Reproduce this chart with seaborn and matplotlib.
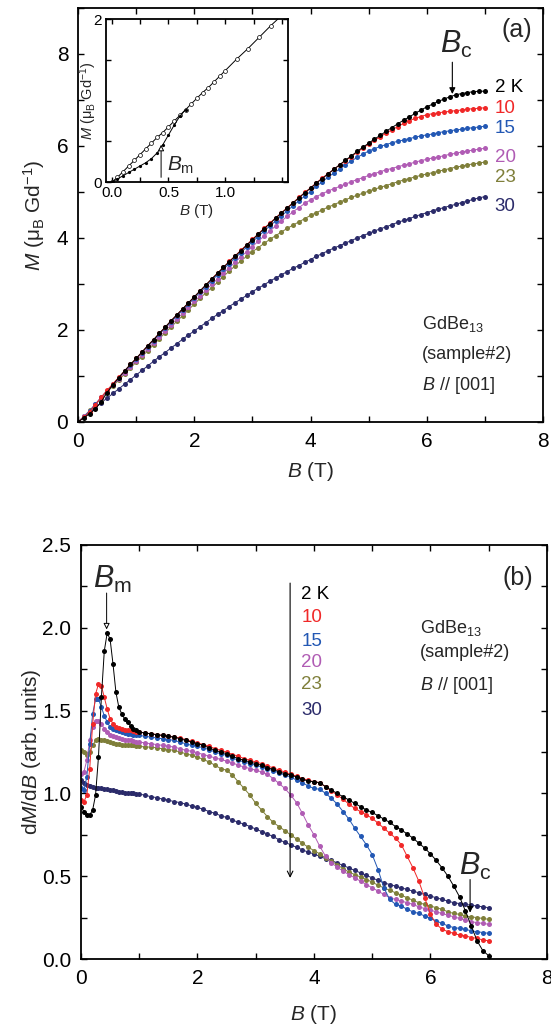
"""
plot.py
-------
GdBe13 (sample#2), B // [001]: magnetization M(B) at several temperatures
(top, with low-field inset) and the field derivative dM/dB (bottom).
"""

import numpy as np
import matplotlib
matplotlib.use("Agg")
import matplotlib.pyplot as plt
from matplotlib.ticker import MultipleLocator, FormatStrFormatter
import seaborn as sns

# ---------------------------------------------------------------- data
TEMPS = ["2 K", "10", "15", "20", "23", "30"]
COLORS = ["#000000", "#f02828", "#2358b4", "#b05cb4", "#7f7f3a", "#2b2b6a"]

# top panel: field grid 0 ... 7 T in 0.1 T steps
B_TOP = np.round(np.linspace(0.0, 7.0, 71), 2)

M_2K = [0.00, 0.09, 0.18, 0.29, 0.44, 0.64, 0.81, 0.96, 1.11, 1.25, 1.38,
        1.52, 1.66, 1.79, 1.93, 2.06, 2.20, 2.33, 2.46, 2.59, 2.72,
        2.85, 2.98, 3.11, 3.23, 3.36, 3.48, 3.60, 3.72, 3.84, 3.96,
        4.08, 4.20, 4.31, 4.43, 4.54, 4.65, 4.76, 4.87, 4.98, 5.08,
        5.19, 5.29, 5.39, 5.49, 5.59, 5.69, 5.78, 5.88, 5.97, 6.06,
        6.15, 6.23, 6.32, 6.40, 6.48, 6.56, 6.63, 6.71, 6.78, 6.85,
        6.91, 6.97, 7.02, 7.07, 7.11, 7.14, 7.16, 7.18, 7.19, 7.19]
M_10K = [0.00, 0.10, 0.22, 0.38, 0.54, 0.69, 0.83, 0.97, 1.11, 1.25, 1.38,
         1.52, 1.66, 1.79, 1.93, 2.06, 2.20, 2.33, 2.46, 2.59, 2.72,
         2.85, 2.98, 3.11, 3.24, 3.36, 3.49, 3.61, 3.73, 3.85, 3.97,
         4.09, 4.21, 4.32, 4.44, 4.55, 4.66, 4.77, 4.88, 4.99, 5.09,
         5.20, 5.30, 5.40, 5.49, 5.59, 5.68, 5.77, 5.86, 5.95, 6.04,
         6.12, 6.20, 6.28, 6.35, 6.42, 6.49, 6.55, 6.60, 6.64, 6.68,
         6.70, 6.72, 6.74, 6.75, 6.77, 6.78, 6.80, 6.81, 6.82, 6.83]
M_15K = [0.00, 0.11, 0.24, 0.39, 0.54, 0.68, 0.82, 0.96, 1.10, 1.23, 1.37,
         1.51, 1.64, 1.77, 1.91, 2.04, 2.17, 2.30, 2.43, 2.56, 2.69,
         2.82, 2.94, 3.07, 3.20, 3.32, 3.44, 3.56, 3.68, 3.80, 3.92,
         4.03, 4.15, 4.26, 4.37, 4.48, 4.59, 4.70, 4.81, 4.91, 5.01,
         5.12, 5.22, 5.32, 5.41, 5.50, 5.59, 5.67, 5.75, 5.82, 5.89,
         5.94, 5.99, 6.03, 6.07, 6.10, 6.13, 6.16, 6.19, 6.22, 6.24,
         6.26, 6.29, 6.31, 6.33, 6.35, 6.36, 6.38, 6.40, 6.41, 6.43]
M_20K = [0.00, 0.12, 0.24, 0.39, 0.53, 0.67, 0.80, 0.94, 1.07, 1.20, 1.33,
         1.46, 1.59, 1.72, 1.85, 1.98, 2.11, 2.24, 2.36, 2.49, 2.62,
         2.74, 2.87, 2.99, 3.11, 3.23, 3.35, 3.47, 3.59, 3.70, 3.81,
         3.93, 4.04, 4.15, 4.26, 4.37, 4.47, 4.57, 4.66, 4.75, 4.83,
         4.90, 4.96, 5.02, 5.07, 5.12, 5.17, 5.22, 5.27, 5.31, 5.36,
         5.40, 5.44, 5.48, 5.51, 5.55, 5.58, 5.61, 5.65, 5.68, 5.71,
         5.74, 5.76, 5.79, 5.82, 5.84, 5.87, 5.89, 5.91, 5.93, 5.95]
M_23K = [0.00, 0.12, 0.25, 0.38, 0.51, 0.65, 0.78, 0.91, 1.04, 1.17, 1.30,
         1.42, 1.55, 1.68, 1.81, 1.94, 2.06, 2.19, 2.31, 2.44, 2.56,
         2.69, 2.81, 2.92, 3.04, 3.16, 3.28, 3.39, 3.50, 3.60, 3.70,
         3.79, 3.88, 3.97, 4.05, 4.13, 4.21, 4.28, 4.35, 4.42, 4.49,
         4.55, 4.61, 4.67, 4.72, 4.78, 4.83, 4.88, 4.93, 4.97, 5.02,
         5.06, 5.10, 5.14, 5.18, 5.22, 5.26, 5.29, 5.33, 5.36, 5.39,
         5.42, 5.45, 5.48, 5.51, 5.54, 5.56, 5.59, 5.61, 5.63, 5.65]
M_30K = [0.00, 0.11, 0.21, 0.31, 0.42, 0.52, 0.62, 0.72, 0.82, 0.92, 1.02,
         1.12, 1.22, 1.32, 1.42, 1.51, 1.61, 1.70, 1.80, 1.89, 1.98,
         2.07, 2.16, 2.25, 2.34, 2.42, 2.51, 2.59, 2.67, 2.75, 2.83,
         2.91, 2.98, 3.06, 3.13, 3.20, 3.27, 3.34, 3.40, 3.47, 3.53,
         3.60, 3.66, 3.72, 3.78, 3.83, 3.89, 3.94, 4.00, 4.05, 4.10,
         4.15, 4.20, 4.24, 4.29, 4.34, 4.38, 4.42, 4.47, 4.51, 4.55,
         4.59, 4.63, 4.66, 4.70, 4.73, 4.77, 4.80, 4.84, 4.87, 4.90]

# inset: low-field M(B) at 2 K, two branches
B_IN_UP = [0.00, 0.05, 0.10, 0.15, 0.20, 0.25, 0.30, 0.35, 0.40, 0.45, 0.50,
           0.55, 0.60, 0.65, 0.70, 0.75, 0.80, 0.85, 0.90, 0.95, 1.00,
           1.10, 1.20, 1.30, 1.40, 1.50]
M_IN_UP = [0.00, 0.06, 0.13, 0.20, 0.27, 0.34, 0.41, 0.48, 0.55, 0.61, 0.68,
           0.75, 0.82, 0.89, 0.96, 1.03, 1.10, 1.16, 1.23, 1.30, 1.37,
           1.51, 1.64, 1.78, 1.92, 2.05]
B_IN_LO = [0.00, 0.05, 0.10, 0.15, 0.20, 0.25, 0.30, 0.35, 0.40, 0.45, 0.50,
           0.55, 0.60, 0.65]
M_IN_LO = [0.00, 0.04, 0.08, 0.12, 0.16, 0.20, 0.24, 0.29, 0.36, 0.46, 0.58,
           0.70, 0.81, 0.89]

# bottom panel: 0.05 T steps below 1 T, 0.1 T steps from 1 to 7 T
B_BOT = np.round(np.concatenate([np.linspace(0.0, 0.95, 20),
                                 np.linspace(1.0, 7.0, 61)]), 2)

D_2K = [0.92, 0.89, 0.87, 0.87, 0.90, 0.99, 1.22, 1.58, 1.86, 1.97,
        1.93, 1.78, 1.61, 1.52, 1.48, 1.45, 1.43, 1.41, 1.39, 1.38,
        1.37, 1.365, 1.36, 1.355, 1.35, 1.345, 1.34, 1.33, 1.32, 1.31,
        1.30, 1.29, 1.275, 1.26, 1.25, 1.24, 1.225, 1.21, 1.20, 1.19,
        1.18, 1.17, 1.155, 1.145, 1.13, 1.12, 1.11, 1.10, 1.085, 1.075,
        1.07, 1.065, 1.04, 1.02, 1.00, 0.98, 0.96, 0.94, 0.92, 0.90,
        0.885, 0.865, 0.845, 0.825, 0.80, 0.78, 0.755, 0.73, 0.70, 0.67,
        0.635, 0.595, 0.55, 0.50, 0.44, 0.375, 0.29, 0.20, 0.11, 0.05,
        0.02]
D_10K = [0.96, 0.95, 0.99, 1.15, 1.42, 1.60, 1.66, 1.65, 1.58, 1.51,
         1.45, 1.42, 1.40, 1.395, 1.39, 1.385, 1.38, 1.38, 1.375, 1.37,
         1.37, 1.365, 1.36, 1.355, 1.35, 1.345, 1.34, 1.335, 1.325, 1.315,
         1.305, 1.295, 1.285, 1.27, 1.26, 1.25, 1.235, 1.225, 1.21, 1.20,
         1.19, 1.18, 1.165, 1.155, 1.14, 1.13, 1.115, 1.105, 1.09, 1.08,
         1.07, 1.065, 1.04, 1.015, 0.99, 0.965, 0.935, 0.91, 0.89, 0.87,
         0.85, 0.82, 0.79, 0.76, 0.73, 0.69, 0.62, 0.55, 0.47, 0.37,
         0.27, 0.21, 0.18, 0.165, 0.155, 0.145, 0.14, 0.13, 0.125, 0.115,
         0.11]
D_15K = [1.03, 1.02, 1.10, 1.30, 1.48, 1.57, 1.57, 1.52, 1.47, 1.43,
         1.40, 1.39, 1.38, 1.375, 1.37, 1.365, 1.36, 1.36, 1.355, 1.35,
         1.35, 1.345, 1.34, 1.335, 1.33, 1.325, 1.32, 1.31, 1.30, 1.29,
         1.285, 1.275, 1.265, 1.25, 1.24, 1.23, 1.215, 1.20, 1.19, 1.18,
         1.17, 1.16, 1.15, 1.135, 1.125, 1.11, 1.10, 1.08, 1.065, 1.045,
         1.03, 1.025, 1.00, 0.97, 0.935, 0.89, 0.845, 0.79, 0.74, 0.69,
         0.63, 0.54, 0.43, 0.36, 0.33, 0.32, 0.30, 0.285, 0.275, 0.26,
         0.245, 0.23, 0.215, 0.20, 0.19, 0.185, 0.18, 0.17, 0.165, 0.16,
         0.155]
D_20K = [1.12, 1.13, 1.20, 1.32, 1.40, 1.44, 1.44, 1.42, 1.39, 1.37,
         1.355, 1.345, 1.34, 1.335, 1.33, 1.325, 1.32, 1.32, 1.315, 1.31,
         1.31, 1.305, 1.30, 1.295, 1.29, 1.285, 1.28, 1.27, 1.26, 1.255,
         1.245, 1.235, 1.225, 1.215, 1.205, 1.195, 1.185, 1.17, 1.16, 1.15,
         1.14, 1.13, 1.115, 1.09, 1.06, 1.03, 0.99, 0.945, 0.88, 0.81,
         0.75, 0.68, 0.62, 0.58, 0.555, 0.53, 0.51, 0.49, 0.47, 0.45,
         0.43, 0.41, 0.39, 0.37, 0.36, 0.35, 0.34, 0.33, 0.315, 0.305,
         0.295, 0.285, 0.275, 0.265, 0.255, 0.245, 0.235, 0.225, 0.22, 0.215,
         0.21]
D_23K = [1.26, 1.25, 1.23, 1.25, 1.29, 1.32, 1.33, 1.325, 1.32, 1.315,
         1.31, 1.305, 1.30, 1.30, 1.295, 1.295, 1.29, 1.29, 1.29, 1.285,
         1.285, 1.28, 1.28, 1.275, 1.27, 1.265, 1.26, 1.25, 1.24, 1.23,
         1.22, 1.205, 1.19, 1.17, 1.15, 1.14, 1.11, 1.07, 1.03, 0.99,
         0.94, 0.90, 0.86, 0.825, 0.80, 0.775, 0.75, 0.725, 0.70, 0.675,
         0.655, 0.635, 0.61, 0.59, 0.57, 0.545, 0.525, 0.51, 0.495, 0.48,
         0.465, 0.445, 0.43, 0.415, 0.40, 0.385, 0.37, 0.355, 0.34, 0.33,
         0.32, 0.31, 0.30, 0.285, 0.275, 0.27, 0.26, 0.255, 0.25, 0.245,
         0.24]
D_30K = [1.08, 1.06, 1.05, 1.045, 1.04, 1.035, 1.03, 1.03, 1.025, 1.025,
         1.02, 1.02, 1.015, 1.01, 1.01, 1.005, 1.005, 1.00, 1.00, 0.995,
         0.995, 0.99, 0.98, 0.975, 0.965, 0.96, 0.95, 0.945, 0.935, 0.925,
         0.915, 0.905, 0.89, 0.88, 0.865, 0.855, 0.84, 0.825, 0.815, 0.80,
         0.785, 0.77, 0.755, 0.74, 0.72, 0.705, 0.69, 0.675, 0.66, 0.645,
         0.635, 0.62, 0.605, 0.595, 0.58, 0.565, 0.55, 0.535, 0.52, 0.505,
         0.49, 0.475, 0.46, 0.45, 0.44, 0.43, 0.42, 0.41, 0.40, 0.39,
         0.38, 0.37, 0.36, 0.35, 0.34, 0.335, 0.33, 0.325, 0.32, 0.315,
         0.31]

M_SERIES = [M_2K, M_10K, M_15K, M_20K, M_23K, M_30K]
D_SERIES = [D_2K, D_10K, D_15K, D_20K, D_23K, D_30K]

# label anchor values (data units)
M_LABEL_Y = [7.27, 6.81, 6.37, 5.76, 5.32, 4.69]
D_LABEL_Y = [2.20, 2.06, 1.92, 1.79, 1.66, 1.50]

# ---------------------------------------------------------------- style
sns.set_theme(style="ticks")
FONTS = ["Liberation Sans", "DejaVu Sans"]
plt.rcParams["font.family"] = FONTS
plt.rcParams["mathtext.fontset"] = "custom"
plt.rcParams["mathtext.rm"] = "Liberation Sans"
plt.rcParams["mathtext.it"] = "Liberation Sans:italic"
plt.rcParams["axes.linewidth"] = 1.3
plt.rcParams["axes.edgecolor"] = "black"


def style_axes(ax, labelsize=15, length=4.5, pad=7):
    ax.tick_params(which="both", direction="in", top=True, right=True,
                   width=1.0, length=length, colors="black",
                   labelsize=labelsize, pad=pad)
    for sp in ax.spines.values():
        sp.set_color("black")


def draw_series(ax, x, y, color, ms=3.6, lw=0.7):
    sns.lineplot(x=x, y=y, ax=ax, color=color, marker="o", markersize=ms,
                 markeredgewidth=0, linewidth=lw, legend=False)


fig = plt.figure(figsize=(5.51, 10.32), dpi=100)
ax1 = fig.add_axes([0.1416, 0.5911, 0.8439, 0.4012])
ax2 = fig.add_axes([0.147, 0.0707, 0.8457, 0.4012])
axin = fig.add_axes([0.1924, 0.8234, 0.3298, 0.158])

# ---------------------------------------------------------------- (a)
for m, c in zip(M_SERIES[::-1], COLORS[::-1]):
    draw_series(ax1, B_TOP, m, c)

ax1.set_xlim(0, 8)
ax1.set_ylim(0, 9)
ax1.xaxis.set_major_locator(MultipleLocator(2))
ax1.xaxis.set_minor_locator(MultipleLocator(1))
ax1.yaxis.set_major_locator(MultipleLocator(2))
ax1.yaxis.set_minor_locator(MultipleLocator(1))
style_axes(ax1)
ax1.set_xlabel(r"$B$ (T)", fontsize=15)
ax1.set_ylabel(r"$M$ (μ$_\mathrm{B}$ Gd$^{-1}$)", fontsize=15)
ax1.xaxis.set_label_coords(0.5, -0.093)
ax1.yaxis.set_label_coords(-0.066, 0.5)

for lab, yv, c in zip(TEMPS, M_LABEL_Y, COLORS):
    ax1.text(7.17, yv, lab, color=c, fontsize=13.5, ha="left", va="center")

ax1.text(7.82, 8.52, "(a)", fontsize=18, ha="right", va="center")
ax1.text(5.91, 2.12, r"GdBe$_{13}$", fontsize=13, ha="left", va="center")
ax1.text(5.91, 1.46, "(sample#2)", fontsize=13, ha="left", va="center")
ax1.text(5.91, 0.79, r"$B$ // [001]", fontsize=13, ha="left", va="center")

ax1.text(6.5, 8.2, r"$B_\mathrm{c}$", fontsize=22, ha="center", va="center")
ax1.annotate("", xy=(6.44, 7.13), xytext=(6.44, 7.82),
             arrowprops=dict(arrowstyle="-|>", color="black", lw=0.8,
                             mutation_scale=9, shrinkA=0, shrinkB=0))

# inset
sns.lineplot(x=B_IN_UP, y=M_IN_UP, ax=axin, color="black", marker="o",
             markersize=2.8, markerfacecolor="white", markeredgecolor="black",
             markeredgewidth=0.5, linewidth=0.7, legend=False)
sns.lineplot(x=B_IN_LO, y=M_IN_LO, ax=axin, color="black", marker="o",
             markersize=2.3, markeredgewidth=0, linewidth=0.7, legend=False)
axin.set_xlim(-0.05, 1.55)
axin.set_ylim(0, 2)
axin.set_xticks([0.0, 0.5, 1.0])
axin.set_xticklabels(["0.0", "0.5", "1.0"])
axin.xaxis.set_minor_locator(MultipleLocator(0.25))
axin.set_yticks([0, 0.5, 1.0, 1.5, 2.0])
axin.set_yticklabels(["0", "", "", "", "2"])
style_axes(axin, labelsize=11, length=3.5, pad=3)
axin.set_xlabel(r"$B$ (T)", fontsize=11, labelpad=1)
axin.set_ylabel(r"$M$ (μ$_\mathrm{B}$ Gd$^{-1}$)", fontsize=10.5)
axin.yaxis.set_label_coords(-0.04, 0.5)
axin.text(0.49, 0.21, r"$B_\mathrm{m}$", fontsize=15, ha="left", va="center")
axin.annotate("", xy=(0.435, 0.46), xytext=(0.435, 0.06),
              arrowprops=dict(arrowstyle="-|>", fc="white", ec="black",
                              lw=0.7, mutation_scale=9, shrinkA=0, shrinkB=0))

# ---------------------------------------------------------------- (b)
for d, c in zip(D_SERIES[::-1], COLORS[::-1]):
    draw_series(ax2, B_BOT, d, c)

ax2.set_xlim(0, 8)
ax2.set_ylim(0, 2.5)
ax2.xaxis.set_major_locator(MultipleLocator(2))
ax2.xaxis.set_minor_locator(MultipleLocator(1))
ax2.yaxis.set_major_locator(MultipleLocator(0.5))
ax2.yaxis.set_minor_locator(MultipleLocator(0.25))
ax2.yaxis.set_major_formatter(FormatStrFormatter("%.1f"))
style_axes(ax2)
ax2.set_xlabel(r"$B$ (T)", fontsize=15)
ax2.set_ylabel(r"d$M$/d$B$ (arb. units)", fontsize=15)
ax2.xaxis.set_label_coords(0.5, -0.107)
ax2.yaxis.set_label_coords(-0.081, 0.5)

for lab, yv, c in zip(TEMPS, D_LABEL_Y, COLORS):
    ax2.text(3.78, yv, lab, color=c, fontsize=13.5, ha="left", va="center")
ax2.annotate("", xy=(3.59, 0.49), xytext=(3.59, 2.27),
             arrowprops=dict(arrowstyle="->", color="black", lw=0.8,
                             mutation_scale=10, shrinkA=0, shrinkB=0))

ax2.text(7.76, 2.30, "(b)", fontsize=18, ha="right", va="center")
ax2.text(5.82, 2.00, r"GdBe$_{13}$", fontsize=13, ha="left", va="center")
ax2.text(5.82, 1.85, "(sample#2)", fontsize=13, ha="left", va="center")
ax2.text(5.82, 1.65, r"$B$ // [001]", fontsize=13, ha="left", va="center")

ax2.text(0.54, 2.29, r"$B_\mathrm{m}$", fontsize=22, ha="center", va="center")
ax2.annotate("", xy=(0.44, 1.99), xytext=(0.44, 2.21),
             arrowprops=dict(arrowstyle="-|>", fc="white", ec="black",
                             lw=0.7, mutation_scale=9, shrinkA=0, shrinkB=0))

ax2.text(6.77, 0.56, r"$B_\mathrm{c}$", fontsize=22, ha="center", va="center")
ax2.annotate("", xy=(6.68, 0.28), xytext=(6.68, 0.48),
             arrowprops=dict(arrowstyle="-|>", color="black", lw=0.8,
                             mutation_scale=9, shrinkA=0, shrinkB=0))

fig.savefig("out.png", dpi=100)
plt.close(fig)
